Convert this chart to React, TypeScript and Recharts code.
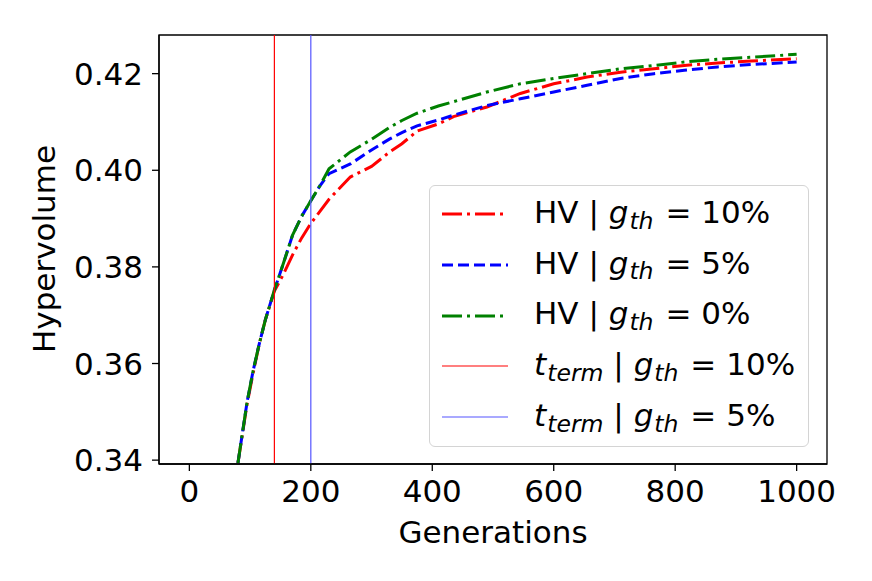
import { LineChart, Line, XAxis, YAxis, ReferenceLine, ReferenceArea, Legend } from 'recharts';

const generations = [80, 95, 105, 115, 125, 140, 155, 170, 185, 200, 215, 230, 265, 300, 330, 350, 375, 410, 435, 490, 545, 600, 655, 710, 765, 815, 870, 925, 1000];
const hv10 = [0.3394, 0.3516, 0.358, 0.364, 0.369, 0.375, 0.3785, 0.3825, 0.386, 0.389, 0.3915, 0.394, 0.3986, 0.4008, 0.4038, 0.4055, 0.4081, 0.4096, 0.4111, 0.4131, 0.4159, 0.4179, 0.4193, 0.4203, 0.421, 0.4217, 0.4222, 0.4226, 0.4231];
const hv5 = [0.3394, 0.352, 0.3585, 0.364, 0.369, 0.3752, 0.3808, 0.3866, 0.3905, 0.3937, 0.3968, 0.3993, 0.4013, 0.4042, 0.4065, 0.4078, 0.4092, 0.4104, 0.4114, 0.4134, 0.4148, 0.4162, 0.4176, 0.419, 0.42, 0.4207, 0.4214, 0.4219, 0.4224];
const hv0 = [0.3394, 0.352, 0.3585, 0.364, 0.369, 0.3752, 0.3808, 0.3866, 0.3905, 0.3937, 0.3968, 0.4003, 0.4038, 0.4064, 0.4089, 0.4103, 0.4118, 0.4133, 0.4142, 0.4162, 0.4179, 0.419, 0.42, 0.421, 0.4217, 0.4224, 0.423, 0.4234, 0.424];
const tTerm10 = 140;
const tTerm5 = 200;
const xTicks = [0, 200, 400, 600, 800, 1000];
const yTicks = [0.34, 0.36, 0.38, 0.4, 0.42];

const X_MIN = -50;
const X_MAX = 1050;
const Y_MIN = 0.3392;
const Y_MAX = 0.428;

const data = generations.map((g, i) => ({ gen: g, hv10: hv10[i], hv5: hv5[i], hv0: hv0[i] }));

const FONT = '"DejaVu Sans", sans-serif';
const DASHDOT = '20 5 3 5';
const DASHED = '11 5';

const legendRows = [
  { color: '#ff0000', dash: DASHDOT, width: 3, sym: 'HV', value: '10%' },
  { color: '#0000ff', dash: DASHED, width: 3, sym: 'HV', value: '5%' },
  { color: '#008000', dash: DASHDOT, width: 3, sym: 'HV', value: '0%' },
  { color: '#ff0000', dash: undefined, width: 1.2, sym: 't', value: '10%' },
  { color: '#5555ff', dash: undefined, width: 1.2, sym: 't', value: '5%' },
];

const subStyle = { fontSize: '0.76em', fontStyle: 'italic', verticalAlign: '-0.25em', marginLeft: 1 };

function LegendBox() {
  return (
    <div
      style={{
        width: 380,
        height: 262,
        border: '1.5px solid #d4d4d4',
        borderRadius: 6,
        background: 'rgba(255,255,255,0.85)',
        fontFamily: FONT,
        fontSize: 31,
        color: '#000',
        paddingTop: 3,
        boxSizing: 'border-box',
      }}
    >
      {legendRows.map((r, i) => (
        <div key={i} style={{ height: 50.7, display: 'flex', alignItems: 'center', whiteSpace: 'nowrap' }}>
          <svg width={66} height={10} style={{ marginLeft: 12, marginRight: 26 }}>
            <line x1={0} y1={5} x2={66} y2={5} stroke={r.color} strokeWidth={r.width} strokeDasharray={r.dash} />
          </svg>
          <span>
            {r.sym === 'HV' ? (
              'HV'
            ) : (
              <>
                <i>t</i>
                <sub style={subStyle}>term</sub>
              </>
            )}
            {' | '}
            <i>g</i>
            <sub style={subStyle}>th</sub>
            <span style={{ marginLeft: 2 }}>{' = ' + r.value}</span>
          </span>
        </div>
      ))}
    </div>
  );
}

export default function App() {
  const tickStyle = { fill: '#000', fontSize: 31, fontFamily: FONT };
  const lineStyle = { stroke: '#000', strokeWidth: 1.3 };
  return (
    <div style={{ position: 'absolute', left: 0, top: 0, background: '#fff' }}>
      <LineChart width={872} height={581} data={data} margin={{ top: 35, right: 45, bottom: 0, left: 0 }}>
        <XAxis
          dataKey="gen"
          type="number"
          domain={[X_MIN, X_MAX]}
          ticks={xTicks}
          allowDataOverflow
          height={117}
          tick={tickStyle}
          tickSize={7}
          tickMargin={9}
          axisLine={lineStyle}
          tickLine={lineStyle}
          label={{
            content: () => (
              <text x={493} y={543} textAnchor="middle" fontSize={31} fontFamily={FONT} fill="#000">
                Generations
              </text>
            ),
          }}
        />
        <YAxis
          type="number"
          domain={[Y_MIN, Y_MAX]}
          ticks={yTicks}
          allowDataOverflow
          width={159}
          tick={tickStyle}
          tickSize={7}
          tickMargin={9}
          tickFormatter={(v: number) => v.toFixed(2)}
          axisLine={lineStyle}
          tickLine={lineStyle}
          label={{
            content: () => (
              <text
                x={55}
                y={249}
                textAnchor="middle"
                transform="rotate(-90, 55, 249)"
                fontSize={31}
                fontFamily={FONT}
                fill="#000"
              >
                Hypervolume
              </text>
            ),
          }}
        />
        <ReferenceArea x1={X_MIN} x2={X_MAX} y1={Y_MIN} y2={Y_MAX} fill="none" stroke="#000" strokeWidth={1.3} fillOpacity={0} />
        <Line dataKey="hv10" stroke="#ff0000" strokeWidth={3} strokeDasharray={DASHDOT} dot={false} activeDot={false} isAnimationActive={false} />
        <Line dataKey="hv5" stroke="#0000ff" strokeWidth={3} strokeDasharray={DASHED} dot={false} activeDot={false} isAnimationActive={false} />
        <Line dataKey="hv0" stroke="#008000" strokeWidth={3} strokeDasharray={DASHDOT} dot={false} activeDot={false} isAnimationActive={false} />
        <ReferenceLine x={tTerm10} stroke="#ff0000" strokeWidth={1.2} />
        <ReferenceLine x={tTerm5} stroke="#5555ff" strokeWidth={1.2} />
        <Legend
          layout="vertical"
          align="center"
          verticalAlign="middle"
          wrapperStyle={{ left: 429, top: 185, width: 380 }}
          content={() => <LegendBox />}
        />
      </LineChart>
    </div>
  );
}
